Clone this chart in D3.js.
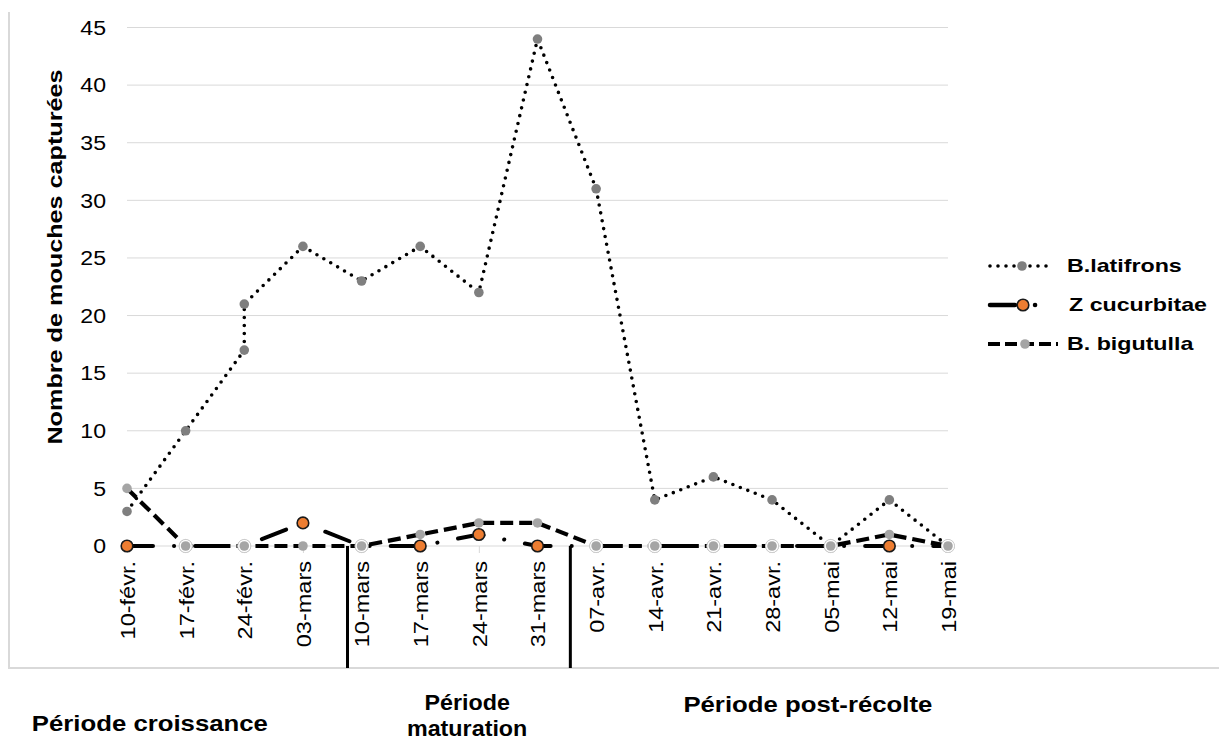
<!DOCTYPE html>
<html><head><meta charset="utf-8">
<script src="https://cdn.jsdelivr.net/npm/d3@7"></script>
<style>body{margin:0;background:#fff}svg{display:block;font-family:"Liberation Sans",Arial,sans-serif}</style>
</head><body><svg id="c" width="1219" height="740"></svg>
<script>
const categories = ["10-févr.","17-févr.","24-févr.","03-mars","10-mars","17-mars","24-mars","31-mars","07-avr.","14-avr.","21-avr.","28-avr.","05-mai","12-mai","19-mai"];
// B.latifrons has two readings on 24-févr.
const latifronsCats = ["10-févr.","17-févr.","24-févr.","24-févr.","03-mars","10-mars","17-mars","24-mars","31-mars","07-avr.","14-avr.","21-avr.","28-avr.","05-mai","12-mai","19-mai"];
const latifrons = [3,10,17,21,26,23,26,22,44,31,4,6,4,0,4,0];
const cucurbitae = [0,0,0,2,0,0,1,0,0,0,0,0,0,0,0];
const bigutulla = [5,0,0,0,0,1,2,2,0,0,0,0,0,1,0];
const yTicks = [0,5,10,15,20,25,30,35,40,45];
const periodBreaks = [3.76, 7.56]; // in category-index units
const periods = [
  {lines:["Période croissance"], at:0.39},
  {lines:["Période","maturation"], at:5.8},
  {lines:["Période post-récolte"], at:11.61}
];
const seriesNames = ["B.latifrons","Z cucurbitae","B. bigutulla"];

(function(){
const svg = d3.select("#c");
const pL=127, pR=948, pT=27.5, pB=546;
const x = d3.scalePoint().domain(categories).range([pL,pR]);
const xi = d3.scaleLinear().domain([0,categories.length-1]).range([pL,pR]);
const y = d3.scaleLinear().domain([0,45]).range([pB,pT]);

const DOT = {w:3.6, dash:"0,8", cap:"round"};
const LDD = {w:4, dash:"26,21,0.1,21", cap:"round"};
const DSH = {w:4.2, dash:"13,6", cap:"butt"};

// outer frame
svg.append("path").attr("d",`M9,12V668H1219`).attr("fill","none").attr("stroke","#d9d9d9").attr("stroke-width",2);

// gridlines
svg.append("g").selectAll("line").data(yTicks).join("line")
  .attr("x1",pL).attr("x2",pR).attr("y1",d=>y(d)).attr("y2",d=>y(d))
  .attr("stroke","#d9d9d9").attr("stroke-width",1);

// y axis labels
const yAxis = d3.axisLeft(y).tickValues(yTicks).tickSize(0).tickPadding(0);
const ya = svg.append("g").attr("transform",`translate(106,0)`).call(yAxis);
ya.select(".domain").remove();
ya.selectAll("text").attr("font-size",21).attr("fill","#000").attr("font-family","Liberation Sans, Arial")
  .attr("x",0).attr("transform","scale(1.1,1)");

// x axis
const xAxis = d3.axisBottom(x).tickSize(7).tickPadding(0);
const xa = svg.append("g").attr("transform",`translate(0,${pB})`).call(xAxis);
xa.select(".domain").remove();
xa.selectAll(".tick line").attr("stroke","#d9d9d9");
xa.selectAll("text").attr("font-size",21).attr("fill","#000").attr("font-family","Liberation Sans, Arial")
  .attr("text-anchor","end").attr("x",0).attr("y",0).attr("dy","0.35em")
  .attr("transform","translate(0,15) rotate(-90) scale(1.12,1)");

// y title
svg.append("text").attr("transform",`translate(62,257) rotate(-90) scale(1.2,1)`).attr("text-anchor","middle")
  .attr("font-size",21).attr("font-weight","bold").text("Nombre de mouches capturées");

// period separators
svg.append("g").selectAll("line").data(periodBreaks).join("line")
  .attr("x1",d=>xi(d)).attr("x2",d=>xi(d)).attr("y1",y(0)).attr("y2",668)
  .attr("stroke","#000").attr("stroke-width",3);

// period labels
periods.forEach(p=>{
  const cx = xi(p.at);
  if(p.lines.length===1){
    svg.append("text").attr("text-anchor","middle").attr("font-size",23).attr("font-weight","bold")
      .attr("transform",`translate(${cx},${p.at<2?731:712}) scale(1.12,1)`).text(p.lines[0]);
  } else {
    p.lines.forEach((l,i)=>svg.append("text").attr("text-anchor","middle").attr("font-size",22).attr("font-weight","bold")
      .attr("transform",`translate(${cx},${710+i*26}) scale(1.06,1)`).text(l));
  }
});

const line = d3.line();
const latPts = latifrons.map((v,i)=>[x(latifronsCats[i]), y(v)]);
const cucPts = cucurbitae.map((v,i)=>[x(categories[i]), y(v)]);
const bigPts = bigutulla.map((v,i)=>[x(categories[i]), y(v), v===cucurbitae[i]]);

function styled(sel, s){ return sel.attr("fill","none").attr("stroke","#000").attr("stroke-width",s.w).attr("stroke-dasharray",s.dash).attr("stroke-linecap",s.cap); }

styled(svg.append("path").attr("d",line(latPts)), DOT);
styled(svg.append("path").attr("d",line(cucPts)), LDD);
styled(svg.append("path").attr("d",line(bigPts.map(d=>[d[0],d[1]]))), DSH);

svg.append("g").selectAll("circle").data(latPts).join("circle")
  .attr("cx",d=>d[0]).attr("cy",d=>d[1]).attr("r",4.8).attr("fill","#7f7f7f");
svg.append("g").selectAll("circle").data(cucPts).join("circle")
  .attr("cx",d=>d[0]).attr("cy",d=>d[1]).attr("r",5.8).attr("fill","#ed7d31").attr("stroke","#1a1a1a").attr("stroke-width",1.6);
const bg = svg.append("g");
bg.selectAll("circle.ring").data(bigPts.filter(d=>d[2])).join("circle").attr("class","ring")
  .attr("cx",d=>d[0]).attr("cy",d=>d[1]).attr("r",6.6).attr("fill","#fff").attr("stroke","#cfcfcf").attr("stroke-width",1);
bg.selectAll("circle.dot").data(bigPts).join("circle").attr("class","dot")
  .attr("cx",d=>d[0]).attr("cy",d=>d[1]).attr("r",4.8).attr("fill","#a5a5a5");

// legend
const lg = svg.append("g");
const legY = [266,305,344];
styled(lg.append("line").attr("x1",990).attr("x2",1052).attr("y1",legY[0]).attr("y2",legY[0]), DOT);
lg.append("circle").attr("cx",1022).attr("cy",legY[0]).attr("r",4.8).attr("fill","#7f7f7f");
styled(lg.append("line").attr("x1",990).attr("x2",1040).attr("y1",legY[1]).attr("y2",legY[1]), {w:4.5,dash:"25,20,0.1,30",cap:"round"});
lg.append("circle").attr("cx",1023).attr("cy",legY[1]).attr("r",5.8).attr("fill","#ed7d31").attr("stroke","#1a1a1a").attr("stroke-width",1.6);
styled(lg.append("line").attr("x1",988).attr("x2",1058).attr("y1",legY[2]).attr("y2",legY[2]), {w:4.2,dash:"12,5",cap:"butt"});
lg.append("circle").attr("cx",1025).attr("cy",legY[2]).attr("r",4.8).attr("fill","#a5a5a5");
lg.selectAll("text").data(seriesNames).join("text")
  .attr("transform",(d,i)=>`translate(${i===1?1069:1067},${legY[i]}) scale(1.29,1)`).attr("dy","0.35em")
  .attr("font-size",18).attr("font-weight","bold").text(d=>d);
})();
</script></body></html>
